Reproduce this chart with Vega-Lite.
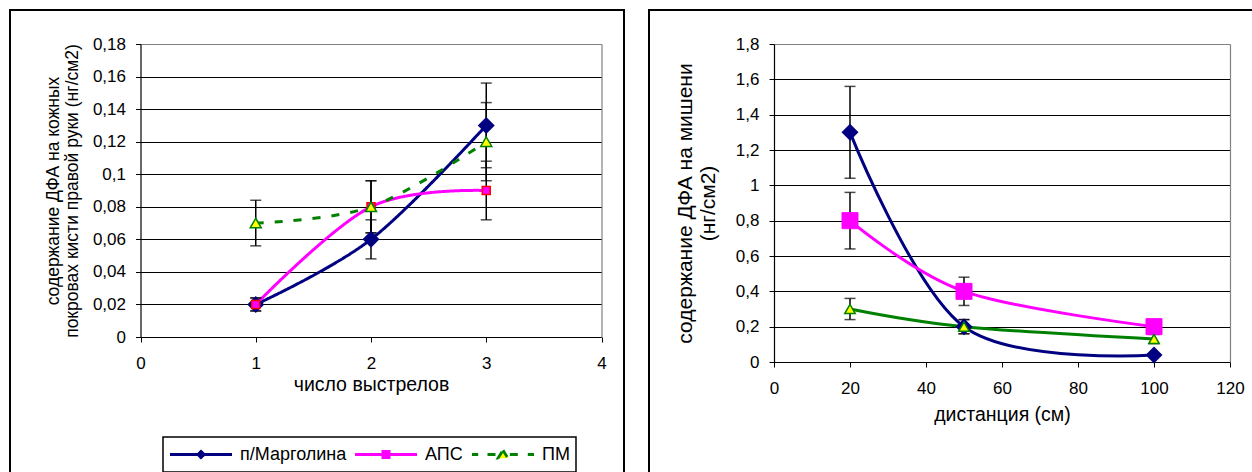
{
  "$schema": "https://vega.github.io/schema/vega-lite/v6.json",
  "background": "white",
  "padding": {"left": 9, "top": 9, "right": 0, "bottom": 0},
  "spacing": 23,
  "config": {
    "font": "Liberation Sans",
    "view": {"stroke": "#000000", "strokeWidth": 2},
    "axis": {
      "labelFont": "Liberation Sans", "titleFont": "Liberation Sans",
      "labelFontSize": 17, "labelColor": "#000000", "titleColor": "#000000",
      "titleFontWeight": "normal", "tickColor": "#000000", "domainColor": "#000000",
      "tickSize": 5, "tickWidth": 1, "domainWidth": 1.2, "gridWidth": 1, "gridOpacity": 1,
      "labelOverlap": false, "labelFlush": false
    },
    "legend": {"labelFont": "Liberation Sans", "labelColor": "#000000"}
  },
  "hconcat": [
    {
      "width": 614,
      "height": 480,
      "data": {"values": [
        {"series": "п/Марголина", "x": 1, "y": 0.02, "lo": 0.016, "hi": 0.024},
        {"series": "п/Марголина", "x": 2, "y": 0.06, "lo": 0.048, "hi": 0.072},
        {"series": "п/Марголина", "x": 3, "y": 0.13, "lo": 0.104, "hi": 0.156},
        {"series": "АПС", "x": 1, "y": 0.02, "lo": 0.016, "hi": 0.024},
        {"series": "АПС", "x": 2, "y": 0.08, "lo": 0.064, "hi": 0.096},
        {"series": "АПС", "x": 3, "y": 0.09, "lo": 0.072, "hi": 0.108},
        {"series": "ПМ", "x": 1, "y": 0.07, "lo": 0.056, "hi": 0.084},
        {"series": "ПМ", "x": 2, "y": 0.08, "lo": 0.064, "hi": 0.096},
        {"series": "ПМ", "x": 3, "y": 0.12, "lo": 0.096, "hi": 0.144}
      ]},
      "resolve": {"axis": {"y": "independent"}},
      "encoding": {
        "x": {"field": "x", "type": "quantitative",
          "scale": {"domain": [0, 4], "range": [130.5, 591.5], "nice": false, "zero": false},
          "axis": {"title": "число выстрелов", "values": [0, 1, 2, 3, 4], "offset": -153,
            "labelPadding": 13.5, "titlePadding": 4, "titleFontSize": 19.5, "grid": false}},
        "y": {"field": "y", "type": "quantitative",
          "scale": {"domain": [0, 0.18], "range": [327, 34], "nice": false, "zero": false},
          "axis": null}
      },
      "layer": [
        {
          "mark": {"type": "line", "interpolate": "cardinal", "tension": 0, "strokeWidth": 3},
          "encoding": {
            "y": {"field": "y", "type": "quantitative",
              "scale": {"domain": [0, 0.18], "range": [327, 34], "nice": false, "zero": false},
              "axis": {"title": ["содержание ДФА на кожных", "покровах кисти правой руки (нг/см2)"],
                "orient": "left",
                "values": [0, 0.02, 0.04, 0.06, 0.08, 0.1, 0.12, 0.14, 0.16, 0.18], "offset": -130.5,
                "labelPadding": 10, "titlePadding": 11, "titleFontSize": 17.5, "titleLineHeight": 19,
                "labelExpr": "replace('' + datum.value, '.', ',')", "grid": true,
                "gridColor": {"condition": {"test": "datum.value === 0.18", "value": "#808080"}, "value": "#000000"}}},
            "color": {"field": "series", "type": "nominal",
              "scale": {"domain": ["п/Марголина", "АПС", "ПМ"], "range": ["#000080", "#FF00FF", "#008000"]},
              "legend": {"title": null, "orient": "none", "legendX": 153, "legendY": 427,
                "direction": "horizontal", "columns": 3, "strokeColor": "#000000", "fillColor": "white",
                "padding": 5.5, "symbolSize": 3844, "symbolStrokeWidth": 2.8, "clipHeight": 24,
                "labelFontSize": 18, "labelOffset": 6.5, "columnPadding": 7, "symbolOffset": 0,
                "encode": {
                  "legend": {"update": {"strokeWidth": {"value": 1.5}}},
                  "symbols": {"update": {
                    "shape": {"signal": "datum.value === 'п/Марголина' ? 'M-1,0H1M0,-0.1L0.1,0L0,0.1L-0.1,0Z' : datum.value === 'АПС' ? 'M-1,0H1M-0.1,-0.1H0.1V0.1H-0.1Z' : 'M-1,0H-0.8M-0.5,0H-0.22M0.22,0H0.5M0.8,0H1M0,-0.14L0.16,0.12L-0.16,0.12Z'"},
                    "fill": {"signal": "datum.value === 'п/Марголина' ? '#000080' : datum.value === 'АПС' ? '#FF00FF' : '#FFFF00'"},
                    "stroke": {"signal": "datum.value === 'п/Марголина' ? '#000080' : datum.value === 'АПС' ? '#FF00FF' : '#008000'"},
                    "strokeDash": {"value": []},
                    "opacity": {"value": 1}
                  }}
                }}},
            "strokeDash": {"field": "series", "type": "nominal",
              "scale": {"domain": ["п/Марголина", "АПС", "ПМ"], "range": [[1, 0], [1, 0], [8, 11]]},
              "legend": null}
          }
        },
        {
          "mark": {"type": "errorbar", "ticks": true, "size": 11, "thickness": 1.5, "color": "#000000"},
          "encoding": {
            "y": {"field": "lo", "type": "quantitative", "axis": null},
            "y2": {"field": "hi"}
          }
        },
        {
          "transform": [{"filter": "datum.series === 'п/Марголина'"}],
          "mark": {"type": "point", "shape": "diamond", "filled": true, "size": 289, "color": "#000080", "opacity": 1}
        },
        {
          "transform": [{"filter": "datum.series === 'АПС'"}],
          "mark": {"type": "point", "shape": "square", "filled": true, "size": 64, "fill": "#FF00FF", "stroke": "#FF0000", "strokeWidth": 1.5, "opacity": 1}
        },
        {
          "transform": [{"filter": "datum.series === 'ПМ'"}],
          "mark": {"type": "point", "shape": "triangle-up", "filled": true, "size": 121, "fill": "#FFFF00", "stroke": "#008000", "strokeWidth": 1.5, "opacity": 1},
          "encoding": {
            "y": {"field": "y", "type": "quantitative",
              "scale": {"domain": [0, 0.18], "range": [327, 34], "nice": false, "zero": false},
              "axis": {"orient": "right", "offset": -22.5, "title": null, "labels": false, "ticks": false,
                "grid": false, "domainColor": "#808080", "domainWidth": 1.2}}
          }
        }
      ]
    },
    {
      "width": 620,
      "height": 480,
      "data": {"values": [
        {"series": "п/Марголина", "x": 20, "y": 1.3, "lo": 1.04, "hi": 1.56},
        {"series": "п/Марголина", "x": 50, "y": 0.2, "lo": 0.16, "hi": 0.24},
        {"series": "п/Марголина", "x": 100, "y": 0.04, "lo": 0.032, "hi": 0.048},
        {"series": "АПС", "x": 20, "y": 0.8, "lo": 0.64, "hi": 0.96},
        {"series": "АПС", "x": 50, "y": 0.4, "lo": 0.32, "hi": 0.48},
        {"series": "АПС", "x": 100, "y": 0.2, "lo": 0.16, "hi": 0.24},
        {"series": "ПМ", "x": 20, "y": 0.3, "lo": 0.24, "hi": 0.36},
        {"series": "ПМ", "x": 50, "y": 0.2, "lo": 0.16, "hi": 0.24},
        {"series": "ПМ", "x": 100, "y": 0.13, "lo": 0.104, "hi": 0.156}
      ]},
      "resolve": {"axis": {"y": "independent"}},
      "encoding": {
        "x": {"field": "x", "type": "quantitative",
          "scale": {"domain": [0, 120], "range": [125, 581], "nice": false, "zero": false},
          "axis": {"title": "дистанция (см)", "values": [0, 20, 40, 60, 80, 100, 120], "offset": -128,
            "labelPadding": 13, "titlePadding": 9.5, "titleFontSize": 19.5, "grid": false}},
        "y": {"field": "y", "type": "quantitative",
          "scale": {"domain": [0, 1.8], "range": [352, 34], "nice": false, "zero": false},
          "axis": null}
      },
      "layer": [
        {
          "mark": {"type": "line", "interpolate": "cardinal", "tension": 0, "strokeWidth": 3},
          "encoding": {
            "y": {"field": "y", "type": "quantitative",
              "scale": {"domain": [0, 1.8], "range": [352, 34], "nice": false, "zero": false},
              "axis": {"title": ["содержание ДФА на мишени", "(нг/см2)"], "orient": "left",
                "values": [0, 0.2, 0.4, 0.6, 0.8, 1, 1.2, 1.4, 1.6, 1.8], "offset": -125,
                "labelPadding": 10, "titlePadding": 17, "titleFontSize": 21, "titleLineHeight": 23,
                "labelExpr": "replace('' + datum.value, '.', ',')", "grid": true,
                "gridColor": {"condition": {"test": "datum.value === 1.8", "value": "#808080"}, "value": "#000000"}}},
            "color": {"field": "series", "type": "nominal",
              "scale": {"domain": ["п/Марголина", "АПС", "ПМ"], "range": ["#000080", "#FF00FF", "#008000"]},
              "legend": {"title": null, "orient": "none", "legendX": 175, "legendY": 427,
                "direction": "horizontal", "columns": 3, "strokeColor": "#000000", "fillColor": "white",
                "padding": 6, "symbolSize": 2025, "symbolStrokeWidth": 2.8, "clipHeight": 24,
                "labelFontSize": 18, "labelOffset": 5.5, "columnPadding": 6, "symbolOffset": 0,
                "encode": {
                  "legend": {"update": {"strokeWidth": {"value": 1.5}}},
                  "symbols": {"update": {
                    "shape": {"signal": "datum.value === 'п/Марголина' ? 'M-1,0H1M0,-0.15L0.15,0L0,0.15L-0.15,0Z' : datum.value === 'АПС' ? 'M-1,0H1M-0.15,-0.15H0.15V0.15H-0.15Z' : 'M-1,0H1M0,-0.2L0.22,0.17L-0.22,0.17Z'"},
                    "fill": {"signal": "datum.value === 'п/Марголина' ? '#000080' : datum.value === 'АПС' ? '#FF00FF' : '#FFFF00'"},
                    "stroke": {"signal": "datum.value === 'п/Марголина' ? '#000080' : datum.value === 'АПС' ? '#FF00FF' : '#008000'"},
                    "strokeDash": {"value": []},
                    "opacity": {"value": 1}
                  }}
                }}}
          }
        },
        {
          "mark": {"type": "errorbar", "ticks": true, "size": 11, "thickness": 1.5, "color": "#000000"},
          "encoding": {
            "y": {"field": "lo", "type": "quantitative", "axis": null},
            "y2": {"field": "hi"}
          }
        },
        {
          "transform": [{"filter": "datum.series === 'п/Марголина'"}],
          "mark": {"type": "point", "shape": "diamond", "filled": true, "size": 289, "color": "#000080", "opacity": 1}
        },
        {
          "transform": [{"filter": "datum.series === 'АПС'"}],
          "mark": {"type": "point", "shape": "square", "filled": true, "size": 256, "fill": "#FF00FF", "stroke": "#FF00FF", "strokeWidth": 1, "opacity": 1}
        },
        {
          "transform": [{"filter": "datum.series === 'ПМ'"}],
          "mark": {"type": "point", "shape": "triangle-up", "filled": true, "size": 110, "fill": "#FFFF00", "stroke": "#008000", "strokeWidth": 1.5, "opacity": 1},
          "encoding": {
            "y": {"field": "y", "type": "quantitative",
              "scale": {"domain": [0, 1.8], "range": [352, 34], "nice": false, "zero": false},
              "axis": {"orient": "right", "offset": -39, "title": null, "labels": false, "ticks": false,
                "grid": false, "domainColor": "#808080", "domainWidth": 1.2}}
          }
        }
      ]
    }
  ]
}
